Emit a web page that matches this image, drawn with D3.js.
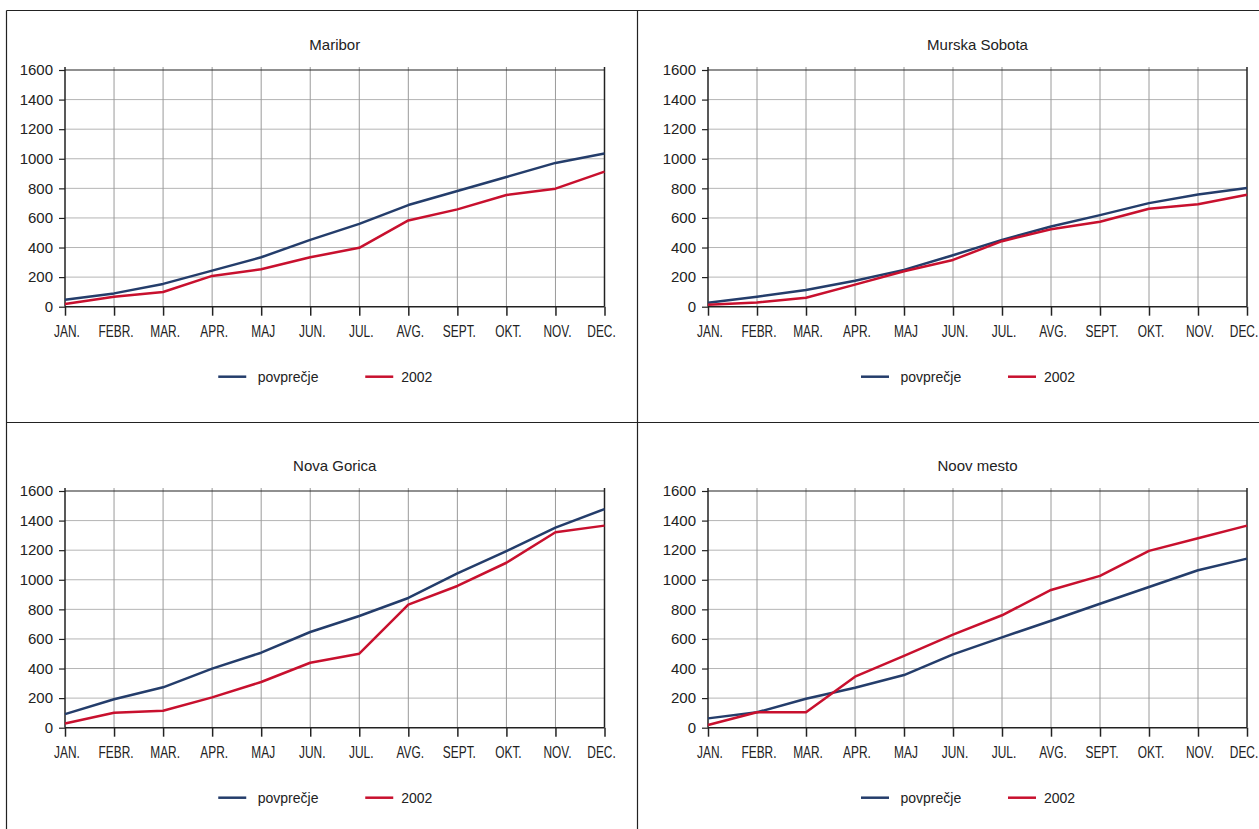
<!DOCTYPE html>
<html>
<head>
<meta charset="utf-8">
<script src="https://cdn.jsdelivr.net/npm/d3@7"></script>
<style>
  html, body { margin: 0; padding: 0; background: #fff; }
  svg { display: block; }
  text { font-family: "Liberation Sans", Arial, sans-serif; fill: #222; }
</style>
</head>
<body>
<svg id="chart" width="1259" height="829"></svg>
<script>
const months = ["JAN.", "FEBR.", "MAR.", "APR.", "MAJ", "JUN.", "JUL.", "AVG.", "SEPT.", "OKT.", "NOV.", "DEC."];
const yTicks = [0, 200, 400, 600, 800, 1000, 1200, 1400, 1600];
const seriesNames = ["povprečje", "2002"];
const seriesColors = ["#243d6b", "#c8102e"];

const cities = ["Maribor", "Murska Sobota", "Nova Gorica", "Noov mesto"];

const mariborAvg  = [47, 90, 154, 244, 334, 452, 560, 687, 782, 877, 972, 1035];
const maribor2002 = [18, 68, 99, 208, 253, 334, 398, 583, 658, 755, 798, 913];

const murskaAvg  = [27, 68, 113, 176, 249, 348, 452, 542, 619, 700, 759, 802];
const murska2002 = [14, 29, 61, 149, 240, 316, 443, 524, 574, 662, 692, 757];

const goricaAvg  = [92, 192, 273, 399, 507, 647, 755, 877, 1043, 1194, 1352, 1478];
const gorica2002 = [29, 101, 115, 205, 309, 439, 500, 832, 958, 1115, 1321, 1366];

const mestoAvg  = [63, 104, 196, 270, 356, 496, 611, 723, 838, 951, 1064, 1143];
const mesto2002 = [18, 104, 104, 345, 485, 629, 760, 931, 1026, 1195, 1281, 1366];

const panelSeries = [
  [mariborAvg, maribor2002],
  [murskaAvg, murska2002],
  [goricaAvg, gorica2002],
  [mestoAvg, mesto2002]
];

const svg = d3.select("#chart");

// panel frame lines
const frame = svg.append("g").attr("stroke", "#222").attr("stroke-width", 1.2).attr("fill", "none");
frame.append("line").attr("x1", 6.5).attr("x2", 1259).attr("y1", 10.5).attr("y2", 10.5);
frame.append("line").attr("x1", 6.5).attr("x2", 6.5).attr("y1", 10.5).attr("y2", 829);
frame.append("line").attr("x1", 637.5).attr("x2", 637.5).attr("y1", 10.5).attr("y2", 829);
frame.append("line").attr("x1", 6.5).attr("x2", 1259).attr("y1", 422.5).attr("y2", 422.5);

const layout = [
  {x0: 65, x1: 604.5, y0: 70, y1: 306.7},
  {x0: 708, x1: 1247, y0: 70, y1: 306.7},
  {x0: 65, x1: 604.5, y0: 491, y1: 727.7},
  {x0: 708, x1: 1247, y0: 491, y1: 727.7}
];

const MS = 0.73; // horizontal condensing of month labels

cities.forEach((city, i) => {
  const L = layout[i];
  const g = svg.append("g");
  const x = d3.scalePoint().domain(months).range([L.x0, L.x1]);
  const y = d3.scaleLinear().domain([0, 1600]).range([L.y1, L.y0]);
  const cx = (L.x0 + L.x1) / 2;

  // title
  g.append("text").attr("x", cx).attr("y", L.y0 - 20)
    .attr("text-anchor", "middle").style("font-size", "15px").text(city);

  // horizontal grid
  g.append("g").selectAll("line").data(yTicks.filter(v => v > 0 && v < 1600)).join("line")
    .attr("x1", L.x0).attr("x2", L.x1)
    .attr("y1", d => y(d)).attr("y2", d => y(d))
    .attr("stroke", "#b5b5b5").attr("stroke-width", 1);

  // vertical grid
  g.append("g").selectAll("line").data(months.slice(1, 11)).join("line")
    .attr("x1", d => x(d)).attr("x2", d => x(d))
    .attr("y1", L.y0 - 3).attr("y2", L.y1)
    .attr("stroke", "#9a9a9a").attr("stroke-width", 1);

  // top and right border
  g.append("line").attr("x1", L.x0).attr("x2", L.x1).attr("y1", y(1600)).attr("y2", y(1600))
    .attr("stroke", "#222").attr("stroke-width", 1.2);
  g.append("line").attr("x1", L.x1).attr("x2", L.x1).attr("y1", L.y0 - 3).attr("y2", L.y1)
    .attr("stroke", "#222").attr("stroke-width", 1.5);

  // y axis
  const yAxis = d3.axisLeft(y).tickValues(yTicks).tickSize(6).tickPadding(6).tickFormat(d3.format("d"));
  const ya = g.append("g").attr("transform", `translate(${L.x0},0)`).call(yAxis)
    .attr("font-family", null).attr("font-size", null);
  ya.select(".domain").attr("d", `M0,${L.y0 - 3}V${L.y1}`).attr("stroke", "#222").attr("stroke-width", 1.5);
  ya.selectAll(".tick line").attr("stroke", "#222").attr("stroke-width", 1.2);
  ya.selectAll(".tick text").attr("fill", null).style("font-size", "15px");

  // x axis
  const xAxis = d3.axisBottom(x).tickSize(9).tickPadding(10);
  const xa = g.append("g").attr("transform", `translate(0,${L.y1})`).call(xAxis)
    .attr("font-family", null).attr("font-size", null);
  xa.select(".domain").attr("d", `M${L.x0},0H${L.x1}`).attr("stroke", "#222").attr("stroke-width", 1.5);
  xa.selectAll(".tick line").attr("stroke", "#222").attr("stroke-width", 1.5);
  xa.selectAll(".tick text").attr("fill", null).style("font-size", "16.3px")
    .attr("transform", `scale(${MS},1)`)
    .attr("x", d => (d === months[months.length - 1] ? -3.5 : 1.5) / MS);

  // lines
  const line = d3.line().x((d, k) => x(months[k])).y(d => y(d));
  panelSeries[i].forEach((vals, s) => {
    g.append("path").datum(vals).attr("d", line)
      .attr("fill", "none").attr("stroke", seriesColors[s]).attr("stroke-width", 2.5)
      .attr("stroke-linejoin", "round");
  });

  // legend
  const ly = L.y1 + 70;
  const legendX = [cx - 116.5, cx + 30.5];
  const textX = [cx - 77, cx + 66.5];
  seriesNames.forEach((name, s) => {
    g.append("line").attr("x1", legendX[s]).attr("x2", legendX[s] + 28)
      .attr("y1", ly).attr("y2", ly).attr("stroke", seriesColors[s]).attr("stroke-width", 2.5);
    g.append("text").attr("x", textX[s]).attr("y", ly).attr("dy", "0.35em")
      .style("font-size", "14px").text(name);
  });
});
</script>
</body>
</html>
